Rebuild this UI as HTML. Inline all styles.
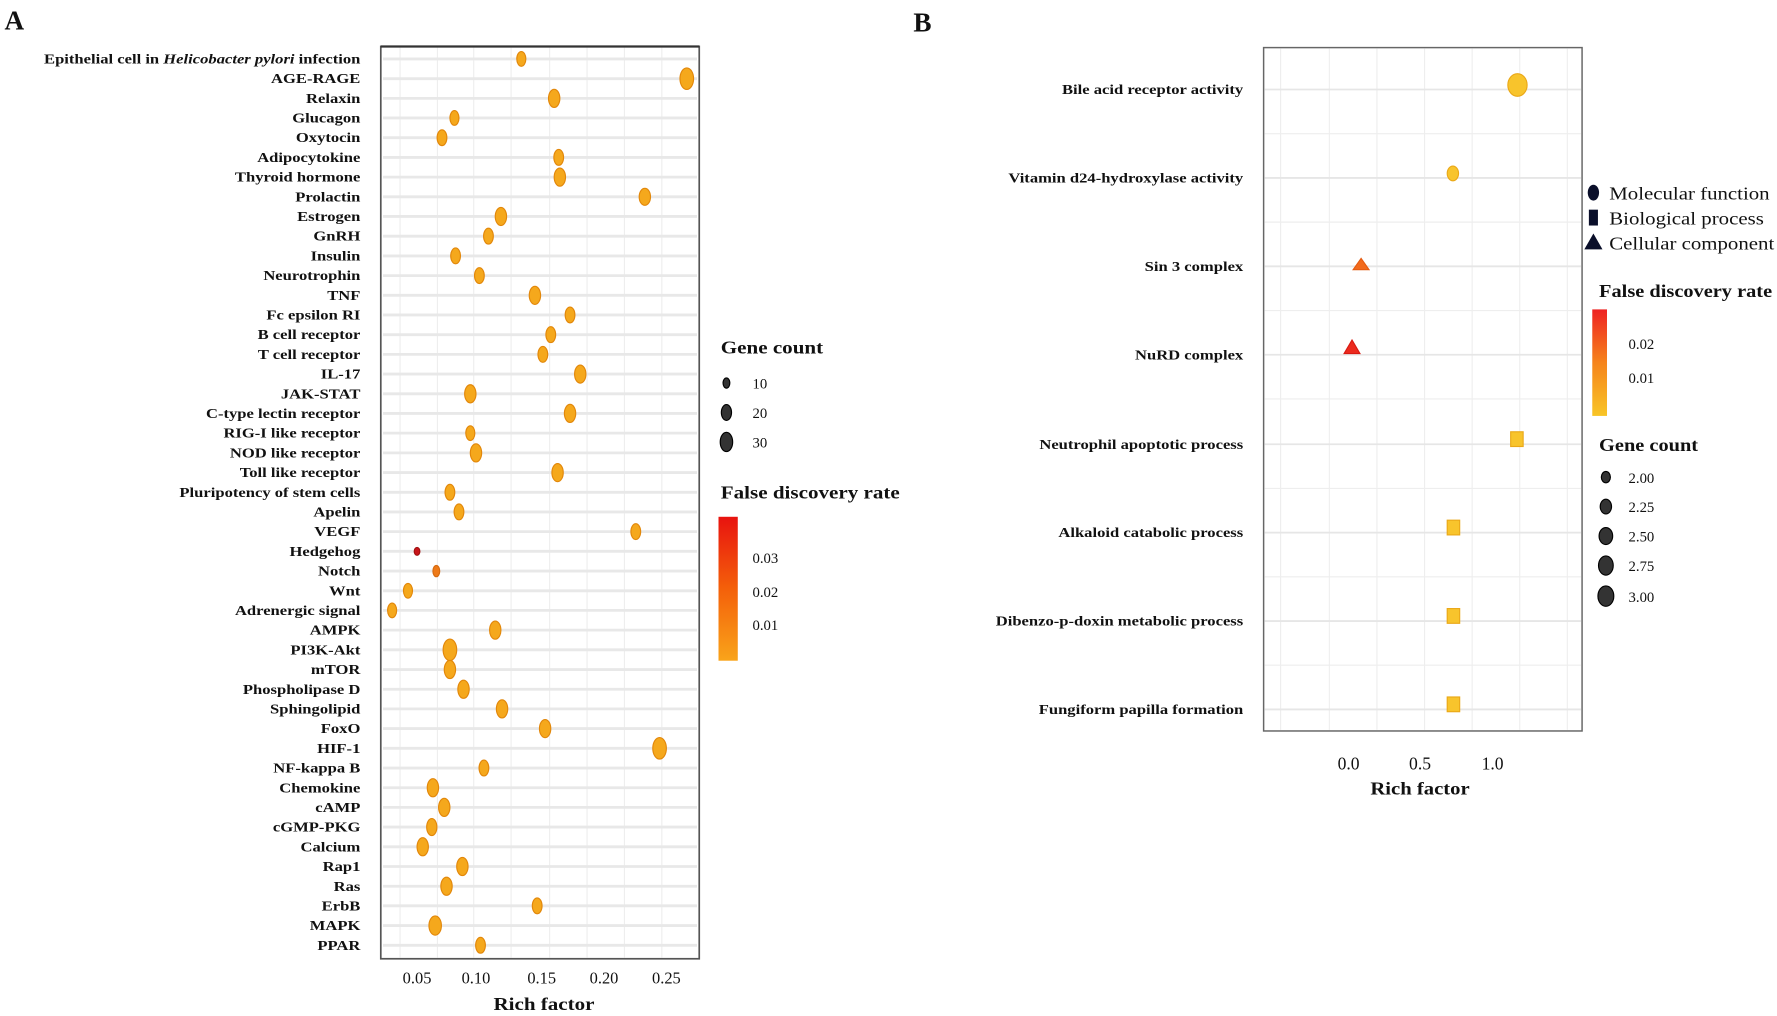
<!DOCTYPE html>
<html><head><meta charset="utf-8"><style>
html,body{margin:0;padding:0;background:#fff;}
svg{display:block;}
text{font-family:"Liberation Serif",serif;fill:#111;}
.lab{font-size:12.3px;font-weight:bold;text-anchor:end;}
.lb{font-size:12.3px;font-weight:bold;text-anchor:end;}
</style></head><body>
<svg width="1777" height="1016" viewBox="0 0 1568 896.5" preserveAspectRatio="none" xmlns="http://www.w3.org/2000/svg">
<defs>
<linearGradient id="gA" x1="0" y1="0" x2="0" y2="1"><stop offset="0" stop-color="#e8130f"/><stop offset="0.5" stop-color="#f4600a"/><stop offset="1" stop-color="#f9a41a"/></linearGradient>
<linearGradient id="gB" x1="0" y1="0" x2="0" y2="1"><stop offset="0" stop-color="#ee2222"/><stop offset="0.5" stop-color="#f6841c"/><stop offset="1" stop-color="#f8c526"/></linearGradient>
</defs>
<text x="4" y="26" style="font-size:24px;font-weight:bold">A</text>
<text x="806" y="28" style="font-size:24px;font-weight:bold">B</text>

<!-- Panel A grid -->
<g stroke="#eeeeee" stroke-width="1">
<line x1="353" y1="42" x2="353" y2="845"/><line x1="386" y1="42" x2="386" y2="845"/><line x1="418" y1="42" x2="418" y2="845"/><line x1="451" y1="42" x2="451" y2="845"/><line x1="485" y1="42" x2="485" y2="845"/><line x1="518" y1="42" x2="518" y2="845"/><line x1="551" y1="42" x2="551" y2="845"/><line x1="584" y1="42" x2="584" y2="845"/>
</g>
<g stroke="#e8e8e8" stroke-width="2.5">
<line x1="338" x2="615" y1="52" y2="52"/><line x1="338" x2="615" y1="69.4" y2="69.4"/><line x1="338" x2="615" y1="86.8" y2="86.8"/><line x1="338" x2="615" y1="104.1" y2="104.1"/><line x1="338" x2="615" y1="121.5" y2="121.5"/><line x1="338" x2="615" y1="138.9" y2="138.9"/><line x1="338" x2="615" y1="156.3" y2="156.3"/><line x1="338" x2="615" y1="173.7" y2="173.7"/><line x1="338" x2="615" y1="191" y2="191"/><line x1="338" x2="615" y1="208.4" y2="208.4"/><line x1="338" x2="615" y1="225.8" y2="225.8"/><line x1="338" x2="615" y1="243.2" y2="243.2"/><line x1="338" x2="615" y1="260.6" y2="260.6"/><line x1="338" x2="615" y1="277.9" y2="277.9"/><line x1="338" x2="615" y1="295.3" y2="295.3"/><line x1="338" x2="615" y1="312.7" y2="312.7"/><line x1="338" x2="615" y1="330.1" y2="330.1"/><line x1="338" x2="615" y1="347.5" y2="347.5"/><line x1="338" x2="615" y1="364.8" y2="364.8"/><line x1="338" x2="615" y1="382.2" y2="382.2"/><line x1="338" x2="615" y1="399.6" y2="399.6"/><line x1="338" x2="615" y1="417" y2="417"/><line x1="338" x2="615" y1="434.4" y2="434.4"/><line x1="338" x2="615" y1="451.7" y2="451.7"/><line x1="338" x2="615" y1="469.1" y2="469.1"/><line x1="338" x2="615" y1="486.5" y2="486.5"/><line x1="338" x2="615" y1="503.9" y2="503.9"/><line x1="338" x2="615" y1="521.3" y2="521.3"/><line x1="338" x2="615" y1="538.6" y2="538.6"/><line x1="338" x2="615" y1="556" y2="556"/><line x1="338" x2="615" y1="573.4" y2="573.4"/><line x1="338" x2="615" y1="590.8" y2="590.8"/><line x1="338" x2="615" y1="608.2" y2="608.2"/><line x1="338" x2="615" y1="625.5" y2="625.5"/><line x1="338" x2="615" y1="642.9" y2="642.9"/><line x1="338" x2="615" y1="660.3" y2="660.3"/><line x1="338" x2="615" y1="677.7" y2="677.7"/><line x1="338" x2="615" y1="695.1" y2="695.1"/><line x1="338" x2="615" y1="712.4" y2="712.4"/><line x1="338" x2="615" y1="729.8" y2="729.8"/><line x1="338" x2="615" y1="747.2" y2="747.2"/><line x1="338" x2="615" y1="764.6" y2="764.6"/><line x1="338" x2="615" y1="782" y2="782"/><line x1="338" x2="615" y1="799.3" y2="799.3"/><line x1="338" x2="615" y1="816.7" y2="816.7"/><line x1="338" x2="615" y1="834.1" y2="834.1"/>
</g>
<rect x="336" y="41" width="281" height="805" fill="none" stroke="#555" stroke-width="1.5"/>
<line x1="336" y1="41" x2="617" y2="41" stroke="#333" stroke-width="2"/>

<!-- Panel A labels -->
<g transform="translate(318,0) scale(1.19,1) translate(-318,0)">
<text class="lab" x="318" y="56">Epithelial cell in <tspan font-style="italic">Helicobacter pylori</tspan> infection</text>
<text class="lab" x="318" y="73.4">AGE-RAGE</text>
<text class="lab" x="318" y="90.8">Relaxin</text>
<text class="lab" x="318" y="108.1">Glucagon</text>
<text class="lab" x="318" y="125.5">Oxytocin</text>
<text class="lab" x="318" y="142.9">Adipocytokine</text>
<text class="lab" x="318" y="160.3">Thyroid hormone</text>
<text class="lab" x="318" y="177.7">Prolactin</text>
<text class="lab" x="318" y="195">Estrogen</text>
<text class="lab" x="318" y="212.4">GnRH</text>
<text class="lab" x="318" y="229.8">Insulin</text>
<text class="lab" x="318" y="247.2">Neurotrophin</text>
<text class="lab" x="318" y="264.6">TNF</text>
<text class="lab" x="318" y="281.9">Fc epsilon RI</text>
<text class="lab" x="318" y="299.3">B cell receptor</text>
<text class="lab" x="318" y="316.7">T cell receptor</text>
<text class="lab" x="318" y="334.1">IL-17</text>
<text class="lab" x="318" y="351.5">JAK-STAT</text>
<text class="lab" x="318" y="368.8">C-type lectin receptor</text>
<text class="lab" x="318" y="386.2">RIG-I like receptor</text>
<text class="lab" x="318" y="403.6">NOD like receptor</text>
<text class="lab" x="318" y="421">Toll like receptor</text>
<text class="lab" x="318" y="438.4">Pluripotency of stem cells</text>
<text class="lab" x="318" y="455.7">Apelin</text>
<text class="lab" x="318" y="473.1">VEGF</text>
<text class="lab" x="318" y="490.5">Hedgehog</text>
<text class="lab" x="318" y="507.9">Notch</text>
<text class="lab" x="318" y="525.3">Wnt</text>
<text class="lab" x="318" y="542.6">Adrenergic signal</text>
<text class="lab" x="318" y="560">AMPK</text>
<text class="lab" x="318" y="577.4">PI3K-Akt</text>
<text class="lab" x="318" y="594.8">mTOR</text>
<text class="lab" x="318" y="612.2">Phospholipase D</text>
<text class="lab" x="318" y="629.5">Sphingolipid</text>
<text class="lab" x="318" y="646.9">FoxO</text>
<text class="lab" x="318" y="664.3">HIF-1</text>
<text class="lab" x="318" y="681.7">NF-kappa B</text>
<text class="lab" x="318" y="699.1">Chemokine</text>
<text class="lab" x="318" y="716.4">cAMP</text>
<text class="lab" x="318" y="733.8">cGMP-PKG</text>
<text class="lab" x="318" y="751.2">Calcium</text>
<text class="lab" x="318" y="768.6">Rap1</text>
<text class="lab" x="318" y="786">Ras</text>
<text class="lab" x="318" y="803.3">ErbB</text>
<text class="lab" x="318" y="820.7">MAPK</text>
<text class="lab" x="318" y="838.1">PPAR</text>
</g>

<!-- Panel A points -->
<g fill="#f5a81c" stroke="#e2870a" stroke-width="1">
<ellipse cx="460" cy="52" rx="4" ry="6.5"/>
<ellipse cx="606" cy="69.4" rx="6" ry="9.5"/>
<ellipse cx="489" cy="86.8" rx="5" ry="8"/>
<ellipse cx="401" cy="104.1" rx="4" ry="6.5"/>
<ellipse cx="390" cy="121.5" rx="4.3" ry="7"/>
<ellipse cx="493" cy="138.9" rx="4.3" ry="7"/>
<ellipse cx="494" cy="156.3" rx="5" ry="8"/>
<ellipse cx="569" cy="173.7" rx="5" ry="7.5"/>
<ellipse cx="442" cy="191" rx="5" ry="8"/>
<ellipse cx="431" cy="208.4" rx="4.3" ry="7"/>
<ellipse cx="402" cy="225.8" rx="4.3" ry="7"/>
<ellipse cx="423" cy="243.2" rx="4.3" ry="7"/>
<ellipse cx="472" cy="260.6" rx="5" ry="8"/>
<ellipse cx="503" cy="277.9" rx="4.3" ry="7"/>
<ellipse cx="486" cy="295.3" rx="4.3" ry="7"/>
<ellipse cx="479" cy="312.7" rx="4.3" ry="7"/>
<ellipse cx="512" cy="330.1" rx="5" ry="8"/>
<ellipse cx="415" cy="347.5" rx="5" ry="8"/>
<ellipse cx="503" cy="364.8" rx="5" ry="8"/>
<ellipse cx="415" cy="382.2" rx="4" ry="6.5"/>
<ellipse cx="420" cy="399.6" rx="5" ry="8"/>
<ellipse cx="492" cy="417" rx="5" ry="8"/>
<ellipse cx="397" cy="434.4" rx="4.3" ry="7"/>
<ellipse cx="405" cy="451.7" rx="4.3" ry="7"/>
<ellipse cx="561" cy="469.1" rx="4.3" ry="7"/>
<ellipse cx="368" cy="486.5" rx="2.5" ry="3.5" fill="#c8151a" stroke="#a01010"/>
<ellipse cx="385" cy="503.9" rx="3" ry="5" fill="#ee7a18" stroke="#d56a10"/>
<ellipse cx="360" cy="521.3" rx="4" ry="6.5"/>
<ellipse cx="346" cy="538.6" rx="4" ry="6.5"/>
<ellipse cx="437" cy="556" rx="5" ry="8"/>
<ellipse cx="397" cy="573.4" rx="6" ry="9.5"/>
<ellipse cx="397" cy="590.8" rx="5" ry="8"/>
<ellipse cx="409" cy="608.2" rx="5" ry="8"/>
<ellipse cx="443" cy="625.5" rx="5" ry="8"/>
<ellipse cx="481" cy="642.9" rx="5" ry="8"/>
<ellipse cx="582" cy="660.3" rx="6" ry="9.5"/>
<ellipse cx="427" cy="677.7" rx="4.3" ry="7"/>
<ellipse cx="382" cy="695.1" rx="5" ry="8"/>
<ellipse cx="392" cy="712.4" rx="5" ry="8"/>
<ellipse cx="381" cy="729.8" rx="4.5" ry="7.5"/>
<ellipse cx="373" cy="747.2" rx="5" ry="8"/>
<ellipse cx="408" cy="764.6" rx="5" ry="8"/>
<ellipse cx="394" cy="782" rx="5" ry="8"/>
<ellipse cx="474" cy="799.3" rx="4.3" ry="7"/>
<ellipse cx="384" cy="816.7" rx="5.5" ry="8.5"/>
<ellipse cx="424" cy="834.1" rx="4.3" ry="7"/>
</g>

<!-- Panel A axis -->
<g style="font-size:14.5px">
<text x="368" y="868" text-anchor="middle">0.05</text>
<text x="420" y="868" text-anchor="middle">0.10</text>
<text x="478" y="868" text-anchor="middle">0.15</text>
<text x="533" y="868" text-anchor="middle">0.20</text>
<text x="588" y="868" text-anchor="middle">0.25</text>
</g>
<text x="480" y="891" text-anchor="middle" transform="translate(480,0) scale(1.16,1) translate(-480,0)" style="font-size:16px;font-weight:bold">Rich factor</text>

<!-- Legend A -->
<g transform="translate(636,0) scale(1.2,1) translate(-636,0)">
<text x="636" y="312" style="font-size:15.5px;font-weight:bold">Gene count</text>
<text x="636" y="440" style="font-size:15.5px;font-weight:bold">False discovery rate</text>
</g>
<g fill="#333" stroke="#000" stroke-width="1">
<ellipse cx="641" cy="338" rx="3" ry="4.5"/>
<ellipse cx="641" cy="364" rx="4.5" ry="7"/>
<ellipse cx="641" cy="390" rx="5.5" ry="8.5"/>
</g>
<g style="font-size:13px">
<text x="664" y="343">10</text><text x="664" y="369">20</text><text x="664" y="395">30</text>
</g>
<rect x="634" y="456" width="17" height="127" fill="url(#gA)"/>
<g style="font-size:13px">
<text x="664" y="497">0.03</text><text x="664" y="527">0.02</text><text x="664" y="556">0.01</text>
</g>

<!-- Panel B grid -->
<g stroke="#eeeeee" stroke-width="1">
<line x1="1130" y1="43" x2="1130" y2="644"/><line x1="1173" y1="43" x2="1173" y2="644"/><line x1="1215" y1="43" x2="1215" y2="644"/><line x1="1257" y1="43" x2="1257" y2="644"/><line x1="1299" y1="43" x2="1299" y2="644"/><line x1="1341" y1="43" x2="1341" y2="644"/><line x1="1383" y1="43" x2="1383" y2="644"/>
<line x1="1116" x2="1395" y1="118" y2="118"/><line x1="1116" x2="1395" y1="196" y2="196"/><line x1="1116" x2="1395" y1="274" y2="274"/><line x1="1116" x2="1395" y1="352" y2="352"/><line x1="1116" x2="1395" y1="431" y2="431"/><line x1="1116" x2="1395" y1="509" y2="509"/><line x1="1116" x2="1395" y1="587" y2="587"/>
</g>
<g stroke="#e6e6e6" stroke-width="1.6">
<line x1="1116" x2="1395" y1="79" y2="79"/><line x1="1116" x2="1395" y1="157" y2="157"/><line x1="1116" x2="1395" y1="235" y2="235"/><line x1="1116" x2="1395" y1="313" y2="313"/><line x1="1116" x2="1395" y1="392" y2="392"/><line x1="1116" x2="1395" y1="470" y2="470"/><line x1="1116" x2="1395" y1="548" y2="548"/><line x1="1116" x2="1395" y1="626" y2="626"/>
</g>
<rect x="1115" y="42" width="281" height="603" fill="none" stroke="#666" stroke-width="1.3"/>

<g transform="translate(1097,0) scale(1.19,1) translate(-1097,0)">
<text class="lb" x="1097" y="83">Bile acid receptor activity</text>
<text class="lb" x="1097" y="161">Vitamin d24-hydroxylase activity</text>
<text class="lb" x="1097" y="239">Sin 3 complex</text>
<text class="lb" x="1097" y="317">NuRD complex</text>
<text class="lb" x="1097" y="396">Neutrophil apoptotic process</text>
<text class="lb" x="1097" y="474">Alkaloid catabolic process</text>
<text class="lb" x="1097" y="552">Dibenzo-p-doxin metabolic process</text>
<text class="lb" x="1097" y="630">Fungiform papilla formation</text>
</g>

<!-- Panel B points -->
<ellipse cx="1339" cy="75" rx="8.5" ry="10" fill="#f8c42c" stroke="#eaa818"/>
<ellipse cx="1282" cy="153" rx="5" ry="6.5" fill="#f8c42c" stroke="#eaa818"/>
<polygon points="1201,228 1194,238 1208,238" fill="#f26a1c" stroke="#e55a10"/>
<polygon points="1193,300 1186,312 1200,312" fill="#ec2a1e" stroke="#d81a12"/>
<rect x="1333" y="381" width="11" height="13" fill="#f8c42c" stroke="#eaa818"/>
<rect x="1277" y="459" width="11" height="13" fill="#f8c42c" stroke="#eaa818"/>
<rect x="1277" y="537" width="11" height="13" fill="#f8c42c" stroke="#eaa818"/>
<rect x="1277" y="615" width="11" height="13" fill="#f8c42c" stroke="#eaa818"/>

<g style="font-size:15.5px">
<text x="1190" y="679" text-anchor="middle">0.0</text>
<text x="1253" y="679" text-anchor="middle">0.5</text>
<text x="1317" y="679" text-anchor="middle">1.0</text>
</g>
<text x="1253" y="701" text-anchor="middle" transform="translate(1253,0) scale(1.14,1) translate(-1253,0)" style="font-size:16px;font-weight:bold">Rich factor</text>

<!-- Legend B -->
<ellipse cx="1406" cy="170" rx="5" ry="7" fill="#0a0f2a"/>
<rect x="1402" y="185" width="8" height="14" fill="#0a0f2a"/>
<polygon points="1406,206 1398,220 1414,220" fill="#0a0f2a"/>
<g style="font-size:16px" transform="translate(1420,0) scale(1.15,1) translate(-1420,0)">
<text x="1420" y="176">Molecular function</text>
<text x="1420" y="198">Biological process</text>
<text x="1420" y="220">Cellular component</text>
</g>
<g transform="translate(1411,0) scale(1.16,1) translate(-1411,0)">
<text x="1411" y="262" style="font-size:15.5px;font-weight:bold">False discovery rate</text>
<text x="1411" y="398" style="font-size:15.5px;font-weight:bold">Gene count</text>
</g>
<rect x="1405" y="273" width="13" height="94" fill="url(#gB)"/>
<g style="font-size:13px">
<text x="1437" y="308">0.02</text><text x="1437" y="338">0.01</text>
</g>
<g fill="#333" stroke="#000" stroke-width="1">
<ellipse cx="1417" cy="421" rx="4" ry="5"/>
<ellipse cx="1417" cy="447" rx="5" ry="6.5"/>
<ellipse cx="1417" cy="473" rx="6" ry="7.5"/>
<ellipse cx="1417" cy="499" rx="6.5" ry="8.5"/>
<ellipse cx="1417" cy="526" rx="7" ry="9"/>
</g>
<g style="font-size:13px">
<text x="1437" y="426">2.00</text><text x="1437" y="452">2.25</text><text x="1437" y="478">2.50</text><text x="1437" y="504">2.75</text><text x="1437" y="531">3.00</text>
</g>
</svg>
</body></html>
